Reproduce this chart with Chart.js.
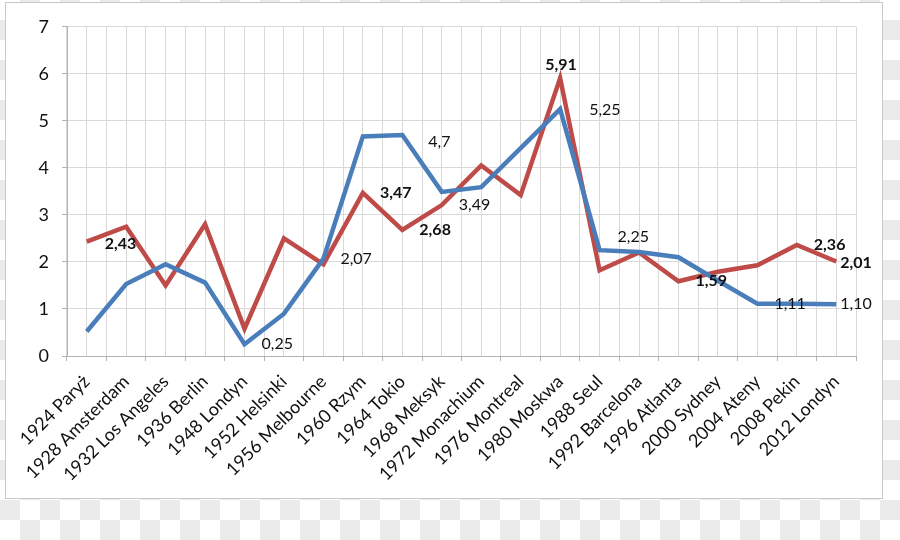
<!DOCTYPE html>
<html>
<head>
<meta charset="utf-8">
<script src="https://cdn.jsdelivr.net/npm/chart.js@4.4.1/dist/chart.umd.min.js"></script>
<style>
  html, body { margin: 0; padding: 0; }
  body {
    width: 900px; height: 540px; overflow: hidden; position: relative;
    background: repeating-conic-gradient(#ebebeb 0 25%, #ffffff 0 50%) 0 0 / 40px 40px;
  }
  #box {
    position: absolute; left: 5px; top: 2px;
    width: 876px; height: 495px;
    background: #fff; border: 1px solid #c8c8c8;
  }
</style>
</head>
<body>
<div id="box"><canvas id="lineChart" width="876" height="495"></canvas></div>
<script>
const categories = ["1924 Paryż", "1928 Amsterdam", "1932 Los Angeles", "1936 Berlin", "1948 Londyn",
  "1952 Helsinki", "1956 Melbourne", "1960 Rzym", "1964 Tokio", "1968 Meksyk", "1972 Monachium",
  "1976 Montreal", "1980 Moskwa", "1988 Seul", "1992 Barcelona", "1996 Atlanta", "2000 Sydney",
  "2004 Ateny", "2008 Pekin", "2012 Londyn"];

const blueValues = [0.52, 1.53, 1.95, 1.56, 0.25, 0.9, 2.07, 4.67, 4.7, 3.49, 3.59, 4.42, 5.25,
  2.25, 2.21, 2.1, 1.6, 1.11, 1.11, 1.10];
const redValues = [2.43, 2.75, 1.5, 2.8, 0.58, 2.5, 1.95, 3.47, 2.68, 3.21, 4.05, 3.42, 5.91,
  1.82, 2.2, 1.59, 1.79, 1.93, 2.36, 2.01];

// data labels shown on the chart (null = no label)
const blueLabels = [null, null, null, null, "0,25", null, "2,07", null, "4,7", "3,49", null, null, "5,25",
  "2,25", null, null, null, "1,11", null, "1,10"];
const redLabels = ["2,43", null, null, null, null, null, null, "3,47", "2,68", null, null, null, "5,91",
  null, null, "1,59", null, null, "2,36", "2,01"];

const yMin = 0, yMax = 7, yStep = 1;

const FONT = "Lato, 'Open Sans', sans-serif";

// label placement relative to the point: default right of it
const labelShift = {
  0: { 8: [26, 7], 9: [17, 13], 12: [29, 1], 13: [18, -13], 19: [4, 0] },
  1: { 0: [18, 2], 12: [-15, -13], 19: [4, 1] }
};

const pointLabels = {
  id: "pointLabels",
  afterDatasetsDraw(chart) {
    const ctx = chart.ctx;
    const sets = [blueLabels, redLabels];
    ctx.save();
    ctx.fillStyle = "#111";
    ctx.textAlign = "left";
    ctx.textBaseline = "middle";
    sets.forEach((labels, di) => {
      const meta = chart.getDatasetMeta(di);
      ctx.font = (di === 1 ? "bold " : "") + "16px " + FONT;
      labels.forEach((txt, i) => {
        if (!txt) return;
        const el = meta.data[i];
        const s = (labelShift[di] && labelShift[di][i]) || [17, 0];
        ctx.fillText(txt, el.x + s[0], el.y + s[1]);
      });
    });
    ctx.restore();
  }
};

const gridColor = "#d9d9d9";
const axisColor = "#b3b3b3";

let ctxl = document.getElementById("lineChart").getContext("2d");
let myLineChart = new Chart(ctxl, {
  type: "line",
  data: {
    labels: categories,
    datasets: [
      {
        label: "seria 1",
        data: blueValues,
        borderColor: "#4a7ebb",
        backgroundColor: "#4a7ebb",
        borderWidth: 4.5,
        pointRadius: 0,
        tension: 0,
        xAxisID: "x"
      },
      {
        label: "seria 2",
        data: redValues,
        borderColor: "#be4b48",
        backgroundColor: "#be4b48",
        borderWidth: 4.5,
        pointRadius: 0,
        tension: 0,
        xAxisID: "x"
      }
    ]
  },
  options: {
    responsive: false,
    animation: false,
    layout: { padding: { top: 20, right: 26, left: 0, bottom: 0 } },
    plugins: {
      legend: { display: false },
      tooltip: { enabled: false }
    },
    scales: {
      x: {
        type: "category",
        position: "bottom",
        offset: true,
        grid: { offset: true, color: gridColor, tickLength: 5, tickColor: axisColor },
        border: { color: axisColor },
        ticks: {
          autoSkip: false,
          minRotation: 45,
          maxRotation: 45,
          padding: 10,
          color: "#111",
          font: { family: FONT, size: 18 }
        },
        afterFit(scale) {
          scale.height = 142;
          scale.paddingLeft = 0;
          scale.paddingRight = 0;
        }
      },
      x2: {
        type: "category",
        position: "top",
        labels: categories,
        offset: true,
        grid: { offset: false, color: gridColor, drawTicks: false },
        border: { display: false },
        ticks: { display: false },
        afterFit(scale) { scale.height = 0; }
      },
      y: {
        min: yMin,
        max: yMax,
        grid: { color: gridColor, tickLength: 5, tickColor: axisColor },
        border: { color: axisColor },
        ticks: {
          stepSize: yStep,
          padding: 13,
          color: "#111",
          font: { family: FONT, size: 18 }
        },
        afterFit(scale) { scale.width = 61; }
      }
    }
  },
  plugins: [pointLabels]
});
</script>
</body>
</html>
